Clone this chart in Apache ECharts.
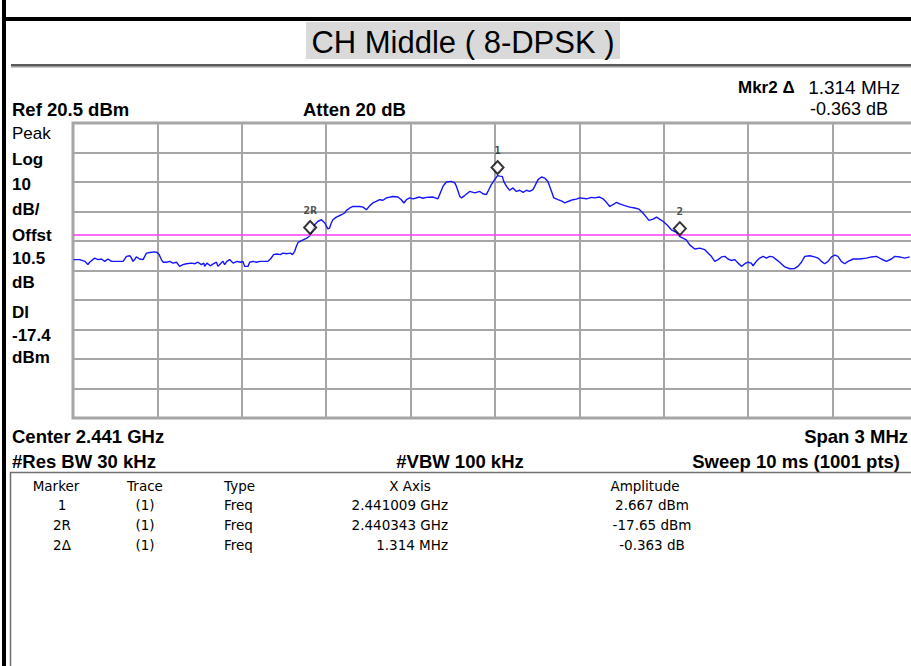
<!DOCTYPE html>
<html>
<head>
<meta charset="utf-8">
<title>CH Middle ( 8-DPSK )</title>
<script src="https://cdn.jsdelivr.net/npm/echarts@6.0.0/dist/echarts.min.js"></script>
<style>
    html, body { margin: 0; padding: 0; background: #fff; }
    #chart { width: 911px; height: 666px; }
</style>
</head>
<body>
<div id="chart"></div>
<script>

    // sweep: [frequency MHz, level dBm]
    const tracePoints = [
        [2439.502, -25.8], [2439.524, -25.8], [2439.542, -26.4], [2439.553, -27.5], [2439.559, -26.7],
        [2439.577, -25.3], [2439.589, -25.8], [2439.601, -25.6], [2439.613, -26.4], [2439.624, -25.6],
        [2439.637, -26.4], [2439.666, -26.4], [2439.678, -26.4], [2439.684, -25.6], [2439.690, -24.7],
        [2439.702, -24.5], [2439.708, -25.3], [2439.713, -26.4], [2439.719, -25.8], [2439.725, -24.9],
        [2439.737, -25.6], [2439.749, -25.8], [2439.761, -23.6], [2439.773, -23.4], [2439.790, -23.2],
        [2439.799, -23.4], [2439.806, -24.1], [2439.814, -25.8], [2439.820, -26.7], [2439.832, -26.7],
        [2439.844, -26.4], [2439.855, -27.0], [2439.868, -26.7], [2439.879, -28.1], [2439.891, -27.5],
        [2439.903, -27.2], [2439.921, -27.0], [2439.933, -27.2], [2439.944, -26.7], [2439.956, -27.5],
        [2439.965, -27.0], [2439.968, -28.1], [2439.976, -27.0], [2439.988, -27.9], [2440.000, -27.2],
        [2440.010, -26.7], [2440.015, -28.1], [2440.024, -27.2], [2440.033, -26.4], [2440.039, -27.5],
        [2440.047, -26.4], [2440.057, -25.8], [2440.069, -27.0], [2440.083, -26.4], [2440.095, -26.7],
        [2440.104, -26.4], [2440.110, -28.1], [2440.122, -28.1], [2440.128, -26.7], [2440.140, -26.4],
        [2440.152, -26.7], [2440.164, -26.4], [2440.193, -26.4], [2440.202, -25.6], [2440.213, -24.1],
        [2440.225, -23.9], [2440.237, -24.1], [2440.246, -23.6], [2440.261, -23.8], [2440.273, -23.6],
        [2440.280, -24.1], [2440.288, -23.0], [2440.294, -21.3], [2440.300, -20.0], [2440.318, -19.1],
        [2440.333, -18.4], [2440.343, -17.65], [2440.350, -16.2], [2440.359, -14.0], [2440.371, -12.8],
        [2440.383, -12.3], [2440.395, -13.4], [2440.406, -15.4], [2440.412, -15.1], [2440.418, -13.4],
        [2440.424, -12.3], [2440.436, -11.4], [2440.454, -10.6], [2440.466, -10.0], [2440.472, -9.1],
        [2440.484, -8.3], [2440.495, -7.8], [2440.519, -7.8], [2440.531, -8.0], [2440.543, -8.9],
        [2440.555, -7.5], [2440.566, -6.6], [2440.578, -6.1], [2440.590, -5.5], [2440.602, -5.7],
        [2440.614, -4.9], [2440.637, -4.4], [2440.655, -4.6], [2440.667, -5.5], [2440.676, -6.6],
        [2440.685, -5.5], [2440.697, -4.9], [2440.709, -5.2], [2440.732, -4.6], [2440.744, -5.0],
        [2440.756, -4.7], [2440.780, -4.6], [2440.797, -5.2], [2440.803, -3.8], [2440.815, -1.0],
        [2440.827, 0.5], [2440.845, 0.7], [2440.857, 0.2], [2440.863, -1.0], [2440.869, -2.7],
        [2440.875, -4.4], [2440.881, -4.9], [2440.892, -4.1], [2440.910, -2.7], [2440.928, -3.2],
        [2440.946, -2.7], [2440.957, -3.5], [2440.969, -3.8], [2440.975, -2.7], [2440.987, -0.4],
        [2440.999, 1.3], [2441.009, 2.667], [2441.017, 2.5], [2441.026, 2.4], [2441.031, 0.7],
        [2441.041, -1.0], [2441.052, -2.3], [2441.064, -1.5], [2441.076, -2.7], [2441.088, -2.3],
        [2441.100, -3.0], [2441.112, -2.3], [2441.123, -2.7], [2441.135, -2.1], [2441.141, -1.0],
        [2441.153, 1.3], [2441.165, 2.2], [2441.177, 1.8], [2441.188, 0.7], [2441.201, -2.7],
        [2441.209, -4.9], [2441.224, -5.5], [2441.240, -6.1], [2441.248, -6.6], [2441.260, -6.1],
        [2441.277, -5.5], [2441.289, -5.3], [2441.301, -4.9], [2441.325, -5.2], [2441.343, -4.7],
        [2441.354, -4.9], [2441.372, -4.6], [2441.384, -5.2], [2441.396, -6.4], [2441.408, -7.8],
        [2441.419, -7.2], [2441.432, -6.4], [2441.443, -6.9], [2441.461, -7.5], [2441.479, -8.0],
        [2441.497, -8.3], [2441.512, -8.7], [2441.526, -10.0], [2441.538, -11.4], [2441.547, -12.5],
        [2441.562, -12.1], [2441.574, -11.4], [2441.585, -12.1], [2441.597, -12.8], [2441.611, -14.0],
        [2441.627, -15.7], [2441.645, -16.6], [2441.657, -18.013], [2441.668, -18.5], [2441.680, -19.1],
        [2441.692, -20.8], [2441.710, -22.2], [2441.728, -21.9], [2441.745, -22.4], [2441.757, -23.6],
        [2441.769, -24.7], [2441.781, -26.4], [2441.793, -25.8], [2441.805, -24.9], [2441.817, -24.7],
        [2441.828, -25.6], [2441.840, -26.1], [2441.852, -25.8], [2441.864, -27.0], [2441.876, -28.1],
        [2441.888, -27.2], [2441.899, -26.7], [2441.911, -27.0], [2441.917, -27.9], [2441.929, -26.4],
        [2441.941, -25.3], [2441.953, -24.7], [2441.965, -25.3], [2441.976, -24.7], [2441.988, -24.9],
        [2442.000, -25.8], [2442.012, -26.7], [2442.030, -28.3], [2442.048, -28.9], [2442.065, -28.8],
        [2442.077, -28.1], [2442.089, -26.7], [2442.101, -24.7], [2442.119, -24.5], [2442.136, -24.9],
        [2442.148, -25.3], [2442.160, -26.4], [2442.172, -27.2], [2442.184, -26.4], [2442.196, -24.9],
        [2442.208, -24.3], [2442.219, -24.7], [2442.231, -26.4], [2442.243, -27.2], [2442.255, -26.4],
        [2442.273, -25.6], [2442.296, -25.6], [2442.320, -25.3], [2442.338, -24.9], [2442.356, -24.7],
        [2442.373, -25.6], [2442.391, -26.4], [2442.409, -25.6], [2442.421, -24.7], [2442.439, -24.9],
        [2442.456, -25.3], [2442.474, -24.9]
    ];

    const markerNames = ['1', '2R', '2'];
    const markerFreqMHz = [2441.009, 2440.343, 2441.657];
    const markerLevelDbm = [2.667, -17.65, -18.013];

    const refLevelDbm = 20.5;
    const dbPerDiv = 10;
    const centerMHz = 2441;
    const spanMHz = 3;
    const displayLineDbm = -17.4;

    const leftLegend = ['Peak', 'Log', '10', 'dB/', 'Offst', '10.5', 'dB', 'Dl', '-17.4', 'dBm'];
    const tableHeader = ['Marker', 'Trace', 'Type', 'X Axis', 'Amplitude'];
    const tableRows = [
        ['1', '(1)', 'Freq', '2.441009 GHz', '2.667 dBm'],
        ['2R', '(1)', 'Freq', '2.440343 GHz', '-17.65 dBm'],
        ['2\u0394', '(1)', 'Freq', '1.314 MHz', '-0.363 dB']
    ];

    const FONT = '"Liberation Sans", Arial, sans-serif';
    const GRID_COLOR = '#a6a6a6';

    function text(x, y, s, opt) {
        opt = opt || {};
        const align = opt.align || 'left';
        return {
            type: 'text',
            x: x,
            y: y,
            silent: true,
            style: {
                text: s,
                fill: '#000',
                font: (opt.bold ? 'bold ' : '') + (opt.size || 18.5) + 'px ' + (opt.family || FONT),
                align: align,
                textAlign: align,
                verticalAlign: 'middle',
                textVerticalAlign: 'middle'
            }
        };
    }

    function rect(x, y, w, h, fill) {
        return { type: 'rect', silent: true, shape: { x: x, y: y, width: w, height: h }, style: { fill: fill } };
    }

    const graphics = [
        rect(2, 0, 4, 666, '#000'),
        rect(2, 17, 909, 4, '#000'),
        rect(306, 22, 314, 37, '#d9d9d9'),
        rect(11, 64, 900, 2, '#5a5a5a'),
        rect(11, 66, 900, 1.5, '#9a9a9a'),
        text(463, 42, 'CH Middle ( 8-DPSK )', { size: 31, align: 'center' }),
        text(738, 87, 'Mkr2 \u0394', { bold: true, size: 17 }),
        text(900, 87, '1.314 MHz', { size: 19, align: 'right' }),
        text(12, 109, 'Ref ' + refLevelDbm + ' dBm', { bold: true }),
        text(303, 109, 'Atten 20 dB', { bold: true }),
        text(888, 109, '-0.363 dB', { size: 18, align: 'right' }),
        text(12, 436, 'Center ' + (centerMHz / 1000).toFixed(3) + ' GHz', { bold: true }),
        text(908, 436, 'Span ' + spanMHz + ' MHz', { bold: true, align: 'right' }),
        text(12, 461, '#Res BW 30 kHz', { bold: true }),
        text(460, 461, '#VBW 100 kHz', { bold: true, align: 'center' }),
        text(900, 461, 'Sweep 10 ms (1001 pts)', { bold: true, align: 'right' }),
        {
            type: 'rect', silent: true,
            shape: { x: 10.5, y: 472.5, width: 910, height: 210 },
            style: { fill: 'none', stroke: '#707070', lineWidth: 1.5 }
        }
    ];

    // left column under "Ref"
    const legendY = [133, 159, 184, 209, 235, 258, 282, 312, 335, 357];
    leftLegend.forEach((s, i) => {
        graphics.push(text(12, legendY[i], s, { bold: i > 0, size: 17 }));
    });

    // marker table
    const TBL = { family: '"DejaVu Sans", Verdana, sans-serif', size: 13.5 };
    const headX = [[56, 'center'], [145, 'center'], [224, 'left'], [410, 'center'], [645, 'center']];
    const cellX = [[62, 'center'], [145, 'center'], [224, 'left'], [448, 'right'], [652, 'center']];
    tableHeader.forEach((s, c) => {
        graphics.push(text(headX[c][0], 486, s, Object.assign({ align: headX[c][1] }, TBL)));
    });
    tableRows.forEach((row, r) => {
        row.forEach((s, c) => {
            graphics.push(text(cellX[c][0], 505 + r * 20, s, Object.assign({ align: cellX[c][1] }, TBL)));
        });
    });

    const gridAxis = {
        type: 'value',
        min: 0,
        max: 10,
        interval: 1,
        axisLine: { show: false },
        axisTick: { show: false },
        axisLabel: { show: false },
        splitLine: { show: true, lineStyle: { color: GRID_COLOR, width: 2 } }
    };

    const chart = echarts.init(document.getElementById('chart'), null, { renderer: 'svg' });
    chart.setOption({
        animation: false,
        backgroundColor: '#fff',
        grid: {
            left: 73,
            top: 123,
            width: 844,
            height: 295,
            outerBoundsMode: 'none',
            containLabel: false,
            show: true,
            borderColor: GRID_COLOR,
            borderWidth: 3,
            backgroundColor: '#fff'
        },
        xAxis: [
            { type: 'value', min: centerMHz - spanMHz / 2, max: centerMHz + spanMHz / 2, show: false },
            gridAxis
        ],
        yAxis: [
            { type: 'value', min: refLevelDbm - 10 * dbPerDiv, max: refLevelDbm, show: false },
            gridAxis
        ],
        graphic: { elements: graphics },
        series: [
            {
                name: 'Trace 1',
                type: 'line',
                xAxisIndex: 0,
                yAxisIndex: 0,
                data: tracePoints,
                showSymbol: false,
                symbol: 'none',
                silent: true,
                lineStyle: { color: '#1414ff', width: 1.4 },
                markLine: {
                    silent: true,
                    symbol: ['none', 'none'],
                    label: { show: false },
                    lineStyle: { color: '#ff3cff', width: 1.5, type: 'solid' },
                    data: [{ yAxis: displayLineDbm }]
                },
                z: 3
            },
            {
                name: 'Markers',
                type: 'scatter',
                xAxisIndex: 0,
                yAxisIndex: 0,
                data: markerNames.map((n, i) => ({ name: n, value: [markerFreqMHz[i], markerLevelDbm[i]] })),
                symbol: 'diamond',
                symbolSize: [12, 13],
                symbolOffset: [0, -8],
                silent: true,
                itemStyle: { color: '#fff', borderColor: '#000', borderWidth: 2 },
                label: {
                    show: true,
                    position: 'top',
                    distance: 4,
                    formatter: '{b}',
                    fontFamily: '"DejaVu Sans Mono", monospace',
                    fontWeight: 'bold',
                    fontSize: 11,
                    color: '#222'
                },
                z: 5
            }
        ]
    });

</script>
</body>
</html>
